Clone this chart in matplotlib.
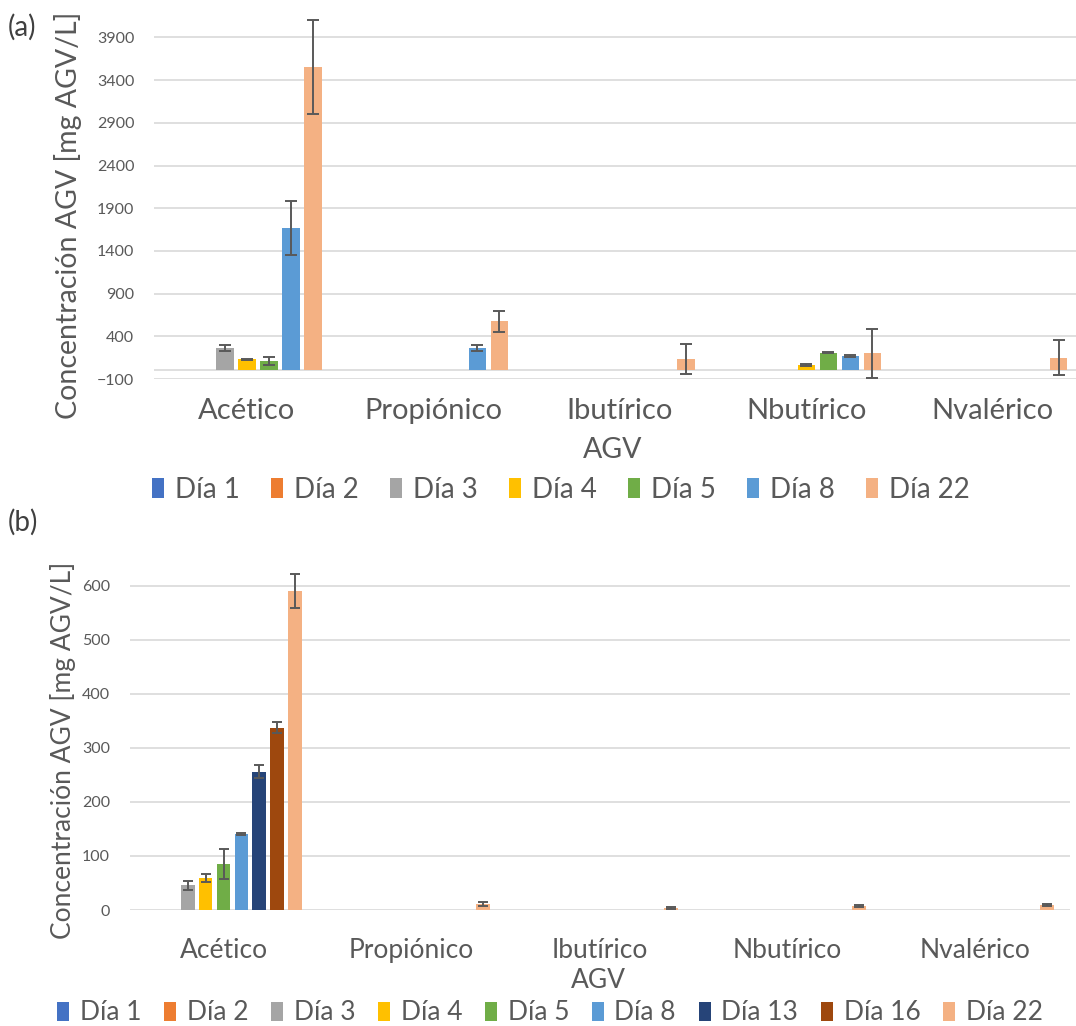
import numpy as np
import matplotlib
matplotlib.use('Agg')
import matplotlib.pyplot as plt

plt.rcParams['font.family'] = ['Lato', 'DejaVu Sans']

nan = np.nan
acids = ['Acético', 'Propiónico', 'Ibutírico', 'Nbutírico', 'Nvalérico']

# panel (a)
days_a = ['Día 1', 'Día 2', 'Día 3', 'Día 4', 'Día 5', 'Día 8', 'Día 22']
vals_a = [
    [nan, nan, nan, nan, nan],      # Día 1
    [nan, nan, nan, nan, nan],      # Día 2
    [260, nan, nan, nan, nan],      # Día 3
    [131, nan, nan, 64, nan],       # Día 4
    [111, nan, nan, 208, nan],      # Día 5
    [1665, 260, nan, 170, nan],     # Día 8
    [3550, 576, 131, 201, 150],     # Día 22
]
err_a = [
    [nan, nan, nan, nan, nan],
    [nan, nan, nan, nan, nan],
    [35, nan, nan, nan, nan],
    [5, nan, nan, 8, nan],
    [50, nan, nan, 8, nan],
    [316, 35, nan, 8, nan],
    [550, 125, 178, 290, 205],
]

# panel (b)
days_b = ['Día 1', 'Día 2', 'Día 3', 'Día 4', 'Día 5', 'Día 8', 'Día 13', 'Día 16', 'Día 22']
vals_b = [
    [nan, nan, nan, nan, nan],
    [nan, nan, nan, nan, nan],
    [46, nan, nan, nan, nan],
    [58.5, nan, nan, nan, nan],
    [85, nan, nan, nan, nan],
    [140, nan, nan, nan, nan],
    [256, nan, nan, nan, nan],
    [337, nan, nan, nan, nan],
    [590, 11, 4, 7, 9],
]
err_b = [
    [nan, nan, nan, nan, nan],
    [nan, nan, nan, nan, nan],
    [8.5, nan, nan, nan, nan],
    [7.5, nan, nan, nan, nan],
    [28, nan, nan, nan, nan],
    [2, nan, nan, nan, nan],
    [12, nan, nan, nan, nan],
    [10, nan, nan, nan, nan],
    [32, 3, 2, 1.5, 2],
]

colors = {'Día 1': '#4472C4', 'Día 2': '#ED7D31', 'Día 3': '#A5A5A5',
          'Día 4': '#FFC000', 'Día 5': '#70AD47', 'Día 8': '#5B9BD5',
          'Día 13': '#264478', 'Día 16': '#9E480E', 'Día 22': '#F4B183'}

W, H = 1076, 1026
TXT = '#595959'
GRID = '#D9D9D9'
fig = plt.figure(figsize=(W / 100, H / 100), dpi=100)


def draw_panel(ax, days, vals, errs, slot, width, capsize, catsize):
    x = np.arange(len(acids))
    mid = (len(days) - 1) / 2
    for i, d in enumerate(days):
        pos = x + (i - mid) * slot
        ax.bar(pos, vals[i], width, color=colors[d], label=d, zorder=3)
        ax.errorbar(pos, vals[i], yerr=errs[i], fmt='none', ecolor='#595959',
                    elinewidth=1.4, capsize=capsize, capthick=1.4, zorder=4)
    ax.set_xlim(-0.5, len(acids) - 0.5)
    ax.set_xticks(x)
    ax.set_xticklabels(acids, fontsize=catsize, color=TXT)
    ax.tick_params(axis='x', length=0)
    ax.tick_params(axis='y', length=0, labelsize=11.5, labelcolor=TXT, pad=14)
    ax.grid(axis='y', color=GRID, linewidth=1.2, zorder=0)
    for s in ax.spines.values():
        s.set_visible(False)


# ---- (a)
ax_a = fig.add_axes([153.75 / W, 1 - 379 / H, (1086 - 153.75) / W, (379 - 11.8) / H])
draw_panel(ax_a, days_a, vals_a, err_a, 22 / 186.5, 17.3 / 186.5, 4.2, 21)
ax_a.set_ylim(-100, 4200)
ax_a.set_yticks(np.arange(-100, 4000, 500))
ax_a.axhline(0, color=GRID, linewidth=1.2, zorder=1)
ax_a.tick_params(axis='x', pad=14)
fig.text(68 / W, 1 - 215 / H, 'Concentración AGV [mg AGV/L]', rotation=90,
         ha='center', va='center', fontsize=20.5, color=TXT)
fig.text(613 / W, 1 - 450 / H, 'AGV', ha='center', va='center', fontsize=20.5, color=TXT)
fig.text(8 / W, 1 - 27 / H, '(a)', ha='left', va='center', fontsize=20, color='#404040')
h, l = ax_a.get_legend_handles_labels()
fig.legend(h, l, loc='center', bbox_to_anchor=(561 / W, 1 - 490 / H), ncol=7,
           frameon=False, fontsize=20, labelcolor=TXT, handlelength=0.45,
           handleheight=0.75, handletextpad=0.4, columnspacing=1.1,
           borderpad=0, borderaxespad=0)

# ---- (b)
ax_b = fig.add_axes([129.5 / W, 1 - 910 / H, 940 / W, (640 * 0.5405) / H])
draw_panel(ax_b, days_b, vals_b, err_b, 17.83 / 188, 13.5 / 188, 3.6, 19)
ax_b.set_ylim(0, 640)
ax_b.set_yticks(np.arange(0, 700, 100))
ax_b.tick_params(axis='x', pad=20)
fig.text(63 / W, 1 - 750 / H, 'Concentración AGV [mg AGV/L]', rotation=90,
         ha='center', va='center', fontsize=19, color=TXT)
fig.text(598 / W, 1 - 981 / H, 'AGV', ha='center', va='center', fontsize=19, color=TXT)
fig.text(8 / W, 1 - 522 / H, '(b)', ha='left', va='center', fontsize=20, color='#404040')
h, l = ax_b.get_legend_handles_labels()
fig.legend(h, l, loc='center', bbox_to_anchor=(550 / W, 1 - 1013 / H), ncol=9,
           frameon=False, fontsize=19, labelcolor=TXT, handlelength=0.45,
           handleheight=0.75, handletextpad=0.4, columnspacing=0.87,
           borderpad=0, borderaxespad=0)

fig.savefig('out.png', dpi=100)
